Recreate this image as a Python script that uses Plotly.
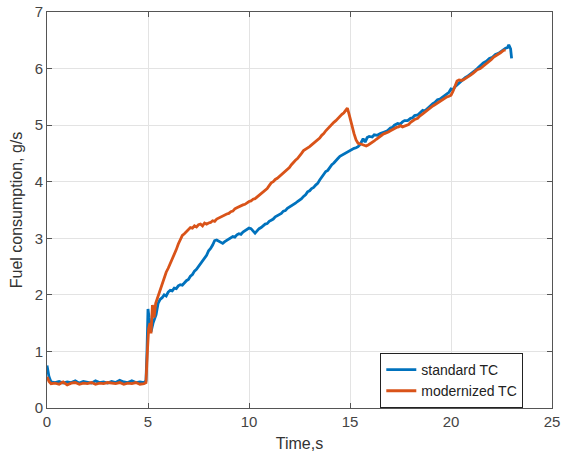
import plotly.graph_objects as go

t_std = [0.0, 0.1, 0.2, 0.4, 0.6, 0.8, 1.0, 1.2, 1.4, 1.6, 1.8, 2.0, 2.2, 2.4, 2.6, 2.8, 3.0, 3.2, 3.4, 3.6, 3.8, 4.0, 4.2, 4.4, 4.6, 4.8, 4.9, 4.95,
         5.0, 5.05, 5.1, 5.15, 5.25,
         5.4, 5.5, 5.6, 5.7, 5.8, 5.9, 6.0, 6.1, 6.2, 6.3, 6.4, 6.5, 6.6, 6.7, 6.8, 6.9, 7.0, 7.1, 7.2, 7.3, 7.4, 7.5, 7.6, 7.7, 7.8, 7.9,
         8.0, 8.1, 8.2, 8.3, 8.4, 8.5, 8.6, 8.7, 8.8, 8.9, 9.0, 9.1, 9.2, 9.3, 9.4, 9.5, 9.6, 9.7, 9.8, 9.9,
         10.0, 10.1, 10.2, 10.3, 10.4, 10.5, 10.6, 10.7, 10.8, 10.9, 11.0, 11.1, 11.2, 11.3, 11.4, 11.5, 11.6, 11.7, 11.8, 11.9,
         12.0, 12.1, 12.2, 12.3, 12.4, 12.5, 12.6, 12.7, 12.8, 12.9, 13.0, 13.1, 13.2, 13.3, 13.4, 13.5, 13.6, 13.7, 13.8, 13.9,
         14.0, 14.1, 14.2, 14.3, 14.4, 14.5, 14.6, 14.7, 14.8, 14.9, 15.0, 15.1, 15.2, 15.3, 15.4, 15.5, 15.6, 15.65, 15.75, 15.85, 15.95,
         16.1, 16.2, 16.35, 16.5, 16.6, 16.7, 16.85, 17.0, 17.1, 17.2, 17.36, 17.5, 17.6, 17.7, 17.85, 18.0, 18.1, 18.2, 18.35, 18.5,
         18.6, 18.7, 18.84, 18.95, 19.1, 19.2, 19.33, 19.45, 19.6, 19.7, 19.8, 19.9, 20.0, 20.1, 20.2, 20.35, 20.5, 20.6, 20.7, 20.8,
         20.95, 21.1, 21.2, 21.3, 21.45, 21.6, 21.75, 21.9, 22.05, 22.2, 22.35, 22.45, 22.6, 22.7, 22.8, 22.86, 22.95, 23.0]
v_std = [0.75, 0.55, 0.46, 0.45, 0.47, 0.44, 0.46, 0.45, 0.48, 0.44, 0.47, 0.46, 0.44, 0.48, 0.45, 0.46, 0.44, 0.47, 0.45, 0.49, 0.46, 0.45, 0.48, 0.45, 0.46, 0.45, 0.48, 1.0,
         1.75, 1.6, 1.45, 1.35, 1.5,
         1.65, 1.85, 1.92, 1.95, 2.0, 1.98, 2.05, 2.08, 2.07, 2.12, 2.11, 2.16, 2.18, 2.17, 2.22, 2.25, 2.27, 2.33, 2.36, 2.42, 2.45, 2.5, 2.55, 2.6, 2.66, 2.7,
         2.78, 2.82, 2.88, 2.96, 2.97, 2.95, 2.93, 2.91, 2.94, 2.96, 2.99, 3.0, 3.03, 3.02, 3.06, 3.08, 3.07, 3.11, 3.13, 3.15,
         3.18, 3.17, 3.12, 3.09, 3.13, 3.17, 3.19, 3.22, 3.25, 3.26, 3.3, 3.32, 3.34, 3.38, 3.4, 3.42, 3.44, 3.48, 3.49, 3.53,
         3.55, 3.58, 3.59, 3.62, 3.65, 3.67, 3.7, 3.74, 3.77, 3.82, 3.84, 3.88, 3.9, 3.94, 3.97, 4.03, 4.08, 4.12, 4.18, 4.2,
         4.26, 4.3, 4.33, 4.38, 4.41, 4.45, 4.47, 4.5, 4.51, 4.53, 4.56, 4.57, 4.59, 4.6, 4.62, 4.66, 4.72, 4.76, 4.7, 4.78, 4.8,
         4.79, 4.83, 4.82, 4.85, 4.87, 4.88, 4.9, 4.95, 4.96, 5.0, 5.03, 5.02, 5.06, 5.08, 5.08, 5.12, 5.13, 5.17, 5.18, 5.22,
         5.26, 5.25, 5.3, 5.33, 5.38, 5.4, 5.45, 5.46, 5.5, 5.53, 5.56, 5.58, 5.64, 5.63, 5.68, 5.73, 5.78, 5.8, 5.84, 5.86,
         5.9, 5.93, 5.97, 6.0, 6.05, 6.1, 6.13, 6.18, 6.2, 6.25, 6.27, 6.3, 6.33, 6.36, 6.37, 6.42, 6.35, 6.18]

t_mod = [0.0, 0.1, 0.2, 0.4, 0.6, 0.8, 1.0, 1.2, 1.4, 1.6, 1.8, 2.0, 2.2, 2.4, 2.6, 2.8, 3.0, 3.2, 3.4, 3.6, 3.8, 4.0, 4.2, 4.4, 4.6, 4.8, 4.9, 4.97,
         5.03, 5.1, 5.15, 5.22, 5.3, 5.38,
         5.5, 5.6, 5.7, 5.8, 5.9, 6.0, 6.1, 6.2, 6.3, 6.4, 6.5, 6.6, 6.7, 6.8, 6.9, 7.0, 7.1, 7.2, 7.3, 7.4, 7.5, 7.6, 7.7, 7.8, 7.9,
         8.0, 8.1, 8.2, 8.3, 8.4, 8.5, 8.6, 8.7, 8.8, 8.9, 9.0, 9.1, 9.2, 9.3, 9.4, 9.5, 9.6, 9.7, 9.8, 9.9,
         10.0, 10.1, 10.2, 10.3, 10.4, 10.5, 10.6, 10.7, 10.8, 10.9, 11.0, 11.1, 11.2, 11.3, 11.4, 11.5, 11.6, 11.7, 11.8, 11.9,
         12.0, 12.1, 12.2, 12.3, 12.4, 12.5, 12.6, 12.7, 12.8, 12.9, 13.0, 13.1, 13.2, 13.3, 13.4, 13.5, 13.6, 13.7, 13.8, 13.9,
         14.0, 14.1, 14.2, 14.3, 14.4, 14.5, 14.6, 14.7, 14.8, 14.87, 14.95, 15.0, 15.1, 15.2, 15.3, 15.4, 15.5, 15.6, 15.7, 15.8, 15.9,
         16.0, 16.1, 16.2, 16.3, 16.4, 16.5, 16.6, 16.7, 16.8, 16.9, 17.0, 17.1, 17.2, 17.3, 17.4, 17.5, 17.6, 17.7, 17.8, 17.9,
         18.0, 18.1, 18.2, 18.35, 18.45, 18.6, 18.7, 18.84, 18.95, 19.1, 19.2, 19.33, 19.45, 19.6, 19.7, 19.8, 19.9,
         20.0, 20.1, 20.2, 20.3, 20.4, 20.5, 20.6, 20.7, 20.8, 20.95, 21.1, 21.2, 21.3, 21.45, 21.6, 21.75, 21.9,
         22.0, 22.1, 22.2, 22.3, 22.45, 22.6, 22.7]
v_mod = [0.55, 0.47, 0.43, 0.44, 0.42, 0.46, 0.41, 0.44, 0.45, 0.42, 0.44, 0.43, 0.45, 0.42, 0.44, 0.43, 0.45, 0.44, 0.43, 0.45, 0.42, 0.44, 0.43, 0.45, 0.42, 0.43, 0.45, 1.0,
         1.4, 1.5, 1.32, 1.82, 1.6, 1.85,
         1.98, 2.1, 2.2, 2.3, 2.4, 2.47, 2.55, 2.62, 2.72, 2.8, 2.9, 2.98, 3.05, 3.08, 3.12, 3.15, 3.19, 3.18, 3.22, 3.2, 3.24, 3.25, 3.22, 3.27, 3.25,
         3.27, 3.28, 3.31, 3.3, 3.34, 3.36, 3.38, 3.4, 3.41, 3.43, 3.44, 3.47, 3.48, 3.52, 3.54, 3.56, 3.57, 3.59, 3.6, 3.63,
         3.65, 3.66, 3.69, 3.7, 3.73, 3.76, 3.79, 3.81, 3.85, 3.88, 3.93, 3.98, 4.0, 4.04, 4.06, 4.09, 4.12, 4.15, 4.18, 4.21,
         4.25, 4.3, 4.35, 4.38, 4.41, 4.45, 4.5, 4.55, 4.57, 4.6, 4.62, 4.65, 4.68, 4.7, 4.74, 4.77, 4.82, 4.85, 4.9, 4.94,
         4.98, 5.02, 5.05, 5.08, 5.12, 5.15, 5.19, 5.22, 5.26, 5.3, 5.2, 5.12, 5.0, 4.85, 4.74, 4.68, 4.67, 4.66, 4.64, 4.63, 4.65,
         4.67, 4.69, 4.72, 4.75, 4.78, 4.8, 4.83, 4.85, 4.86, 4.88, 4.9, 4.92, 4.95, 4.96, 4.97, 4.99, 4.97, 4.98, 5.0, 5.01,
         5.05, 5.08, 5.1, 5.12, 5.16, 5.2, 5.23, 5.27, 5.3, 5.34, 5.36, 5.39, 5.42, 5.45, 5.48, 5.5, 5.51,
         5.53, 5.6, 5.7, 5.78, 5.8, 5.79, 5.8, 5.82, 5.84, 5.88, 5.92, 5.95, 5.98, 6.0, 6.04, 6.08, 6.12,
         6.16, 6.2, 6.22, 6.24, 6.28, 6.32, 6.33]

x_ticks = [0, 5, 10, 15, 20, 25]
y_ticks = [0, 1, 2, 3, 4, 5, 6, 7]

fig = go.Figure()
fig.add_trace(go.Scatter(x=t_std, y=v_std, mode="lines", name="standard TC",
                         line=dict(color="#0072BD", width=2.8)))
fig.add_trace(go.Scatter(x=t_mod, y=v_mod, mode="lines", name="modernized TC",
                         line=dict(color="#D95319", width=2.8)))

axis_common = dict(showline=True, linecolor="#555555", linewidth=1, mirror="ticks",
                   ticks="inside", ticklen=5, tickcolor="#555555",
                   showgrid=True, gridcolor="#E3E3E3", gridwidth=1, zeroline=False,
                   automargin=False,
                   tickfont=dict(family="Liberation Sans, Arial", size=15, color="#444444"))

fig.update_layout(
    width=561, height=459,
    margin=dict(l=47, r=9, t=12, b=51),
    paper_bgcolor="white", plot_bgcolor="white",
    font=dict(family="Liberation Sans, Arial", size=15, color="#333333"),
    xaxis=dict(range=[0, 25], tickvals=x_ticks,
               title=dict(text="Time,s", font=dict(size=16, color="#333333"), standoff=8),
               **axis_common),
    yaxis=dict(range=[0, 7], tickvals=y_ticks,
               title=dict(text="Fuel consumption, g/s", font=dict(size=16, color="#333333"), standoff=8),
               **axis_common),
    legend=dict(x=0.66, y=0.139, xanchor="left", yanchor="top",
                bgcolor="white", bordercolor="#222222", borderwidth=1,
                font=dict(size=14, color="#222222"), tracegroupgap=0,
                itemwidth=30),
    showlegend=True,
)

fig.write_html("out.html")
